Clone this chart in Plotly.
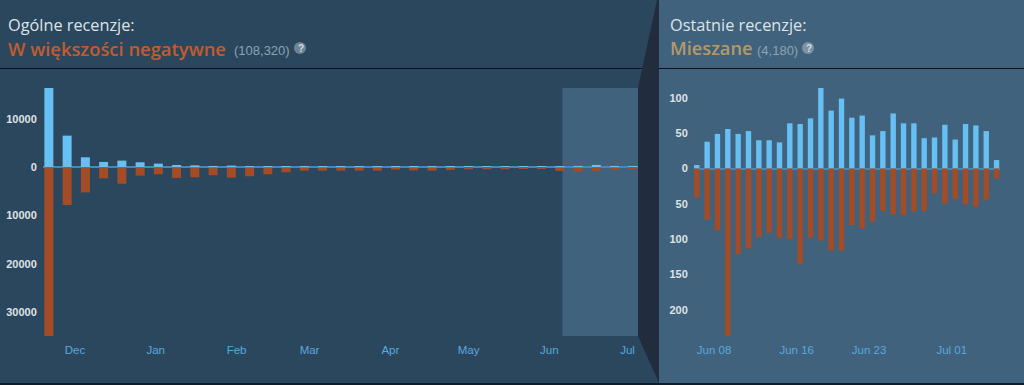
import plotly.graph_objects as go

# ---------- data ----------
overall_dates = ["2018-11-21","2018-11-28","2018-12-05","2018-12-12","2018-12-19","2018-12-26","2019-01-02",
                 "2019-01-09","2019-01-16","2019-01-23","2019-01-30","2019-02-06","2019-02-13","2019-02-20",
                 "2019-02-27","2019-03-06","2019-03-13","2019-03-20","2019-03-27","2019-04-03","2019-04-10",
                 "2019-04-17","2019-04-24","2019-05-01","2019-05-08","2019-05-15","2019-05-22","2019-05-29",
                 "2019-06-05","2019-06-12","2019-06-19","2019-06-26","2019-07-03"]
overall_up = [16400,6550,2070,1100,1380,1035,760,480,410,280,345,200,200,150,120,120,
              100,100,100,90,90,90,80,80,70,70,70,70,80,280,480,280,100]
overall_down = [34900,7800,5200,2280,3400,1725,1450,2200,2070,1650,2140,1860,1450,1030,690,690,
                690,690,690,480,620,690,550,410,410,410,345,345,760,900,760,480,280]
overall_ytick_vals = [10000,0,-10000,-20000,-30000]
overall_ytick_text = ["10000","0","10000","20000","30000"]
overall_xtick_vals = ["2018-12-01","2019-01-01","2019-02-01","2019-03-01","2019-04-01","2019-05-01","2019-06-01","2019-07-01"]
overall_xtick_text = ["Dec","Jan","Feb","Mar","Apr","May","Jun","Jul"]

recent_dates = ["2019-06-06","2019-06-07","2019-06-08","2019-06-09","2019-06-10","2019-06-11","2019-06-12","2019-06-13",
                "2019-06-14","2019-06-15","2019-06-16","2019-06-17","2019-06-18","2019-06-19","2019-06-20","2019-06-21",
                "2019-06-22","2019-06-23","2019-06-24","2019-06-25","2019-06-26","2019-06-27","2019-06-28","2019-06-29",
                "2019-06-30","2019-07-01","2019-07-02","2019-07-03","2019-07-04","2019-07-05"]
recent_up = [5,38,49,56,49,53,40,40,37,64,63,71,114,82,99,72,75,47,53,78,64,64,43,44,62,41,63,61,53,12]
recent_down = [41,72,87,237,121,113,97,91,98,100,135,98,102,116,116,80,85,75,60,65,66,61,60,35,50,43,51,54,44,14]
recent_ytick_vals = [100,50,0,-50,-100,-150,-200]
recent_ytick_text = ["100","50","0","50","100","150","200"]
recent_xtick_vals = ["2019-06-07 16:00","2019-06-15 16:00","2019-06-22 16:00","2019-06-30 16:00"]
recent_xtick_text = ["Jun 08","Jun 16","Jun 23","Jul 01"]

# ---------- style ----------
W, H = 1024, 385
BG_L, BG_R, WEDGE, SEL = "#2b475e", "#40627d", "#212c3d", "#40627c"
UP, DOWN = "#66c0f4", "#a34c25"
AXIS_TXT, DATE_TXT = "#dfe3e6", "#5aa9dc"
ZERO = "#4a86ad"
DAY = 86400000
FONT = "Liberation Sans"
HEAD = "Open Sans"

def fx(p): return p / W
def fy(p): return 1 - p / H

fig = go.Figure()
fig.add_bar(x=overall_dates, y=overall_up, marker=dict(color=UP, line_width=0), width=3.45*DAY, xaxis="x", yaxis="y")
fig.add_bar(x=overall_dates, y=[-v for v in overall_down], marker=dict(color=DOWN, line_width=0), width=3.45*DAY, xaxis="x", yaxis="y")
fig.add_bar(x=recent_dates, y=recent_up, marker=dict(color=UP, line_width=0), width=0.52*DAY, xaxis="x2", yaxis="y2")
fig.add_bar(x=recent_dates, y=[-v for v in recent_down], marker=dict(color=DOWN, line_width=0), width=0.52*DAY, xaxis="x2", yaxis="y2")

def xax(dom, rng, vals, text):
    return dict(type="date", domain=[fx(dom[0]), fx(dom[1])], range=rng, tickmode="array", tickvals=vals, ticktext=text,
                showgrid=False, zeroline=False, showline=False, ticks="outside", ticklen=3, tickcolor="rgba(0,0,0,0)",
                tickfont=dict(family=FONT, size=11.5, color=DATE_TXT), fixedrange=True)
def yax(anchor, rng, vals, text):
    return dict(anchor=anchor, domain=[fy(336), fy(88)], range=rng, tickmode="array", tickvals=vals, ticktext=text,
                showgrid=False, zeroline=True, zerolinecolor=ZERO, zerolinewidth=1.5, showline=False,
                ticks="outside", ticklen=3, tickcolor="rgba(0,0,0,0)",
                tickfont=dict(family=FONT, size=11, color=AXIS_TXT, weight="bold"), fixedrange=True)

def rect(x0, y0, x1, y1, color):
    return dict(type="rect", xref="paper", yref="paper", x0=fx(x0), x1=fx(x1), y0=fy(y1), y1=fy(y0),
                fillcolor=color, line_width=0, layer="below")

shapes = [
    rect(659, 0, W, H, BG_R),
    dict(type="rect", xref="x", yref="paper", x0="2019-06-06", x1="2019-07-05", y0=fy(336), y1=fy(88),
         fillcolor=SEL, line_width=0, layer="below"),
    rect(0, 68, W, 69, "#0c1218"),
    dict(type="path", xref="paper", yref="paper", layer="below", line_width=0, fillcolor=WEDGE,
         path=f"M {fx(638)} {fy(88)} L {fx(657)} {fy(0)} L {fx(659)} {fy(0)} L {fx(659)} {fy(383)} L {fx(638)} {fy(336)} Z"),
    rect(0, 383, W, H, "#101c28"),
    dict(type="circle", xref="paper", yref="paper", x0=fx(294), x1=fx(306), y0=fy(54), y1=fy(42),
         fillcolor="#6f8594", line_width=0, layer="below"),
    dict(type="circle", xref="paper", yref="paper", x0=fx(802), x1=fx(814), y0=fy(54), y1=fy(42),
         fillcolor="#7d93a3", line_width=0, layer="below"),
]

def label(x, y, text, size, color, family=HEAD, weight="normal"):
    return dict(xref="paper", yref="paper", x=fx(x), y=fy(y), xanchor="left", yanchor="middle", showarrow=False,
                text=text, align="left", font=dict(family=family, size=size, color=color, weight=weight))

annotations = [
    label(6, 25, "Ogólne recenzje:", 16.3, "#dfe3e6"),
    label(6, 48, "W większości negatywne", 18.4, "#c35c2c", weight=600),
    label(232, 50, "(108,320)", 13, "#8aa3b5", FONT),
    label(295.5, 48, "?", 10, "#d5dde3", FONT, "bold"),
    label(668, 25, "Ostatnie recenzje:", 16.3, "#dfe3e6"),
    label(668, 48, "Mieszane", 18.2, "#b49a69", weight=600),
    label(755, 50, "(4,180)", 13, "#8aa3b5", FONT),
    label(803.5, 48, "?", 10, "#d5dde3", FONT, "bold"),
]

fig.update_layout(
    width=W, height=H, margin=dict(l=0, r=0, t=0, b=0), showlegend=False, barmode="overlay",
    paper_bgcolor=BG_L, plot_bgcolor="rgba(0,0,0,0)", shapes=shapes, annotations=annotations,
    xaxis=xax((43, 638), ["2018-11-18 18:00", "2019-07-05"], overall_xtick_vals, overall_xtick_text),
    yaxis=yax("x", [-34900, 16400], overall_ytick_vals, overall_ytick_text),
    xaxis2=xax((694, 1000), ["2019-06-05 17:30", "2019-07-05 08:00"], recent_xtick_vals, recent_xtick_text),
    yaxis2=yax("x2", [-237, 114], recent_ytick_vals, recent_ytick_text),
)
fig.write_html("out.html", config=dict(displayModeBar=False),
               post_script="document.body.style.margin='0';document.body.style.overflow='hidden';")
